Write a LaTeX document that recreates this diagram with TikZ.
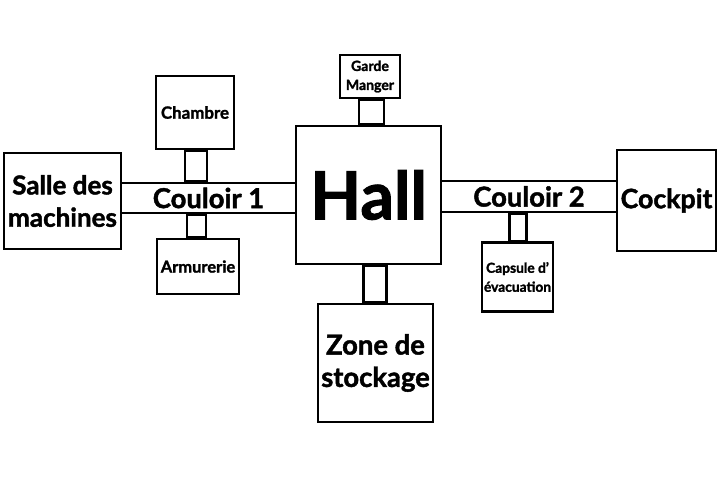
\documentclass[tikz,border=0pt]{standalone}
\usepackage{fontspec}
\setmainfont{Lato}[BoldFont={Lato Bold},BoldFeatures={FakeBold=1.6}]
\begin{document}
\begin{tikzpicture}[x=0.025cm,y=-0.025cm,
  room/.style={draw=black,line width=2pt,fill=white,inner sep=0pt,align=center,font=\bfseries},
  conn/.style={draw=black,line width=2pt}]
\useasboundingbox[fill=white] (0,0) rectangle (720,480);
% rooms
\node[room,minimum width=2.925cm,minimum height=2.4cm,font=\bfseries\fontsize{18.5}{23}\selectfont] (salle) at (62.5,201) {Salle des\\machines};
\node[room,minimum width=4.375cm,minimum height=0.75cm,font=\bfseries\fontsize{19.5}{18}\selectfont] (couloir1) at (208.5,198) {Couloir 1};
\node[room,minimum width=1.95cm,minimum height=1.825cm,font=\bfseries\fontsize{12}{11}\selectfont] (chambre) at (195,112.5) {Chambre};
\node[room,minimum width=2.05cm,minimum height=1.375cm,font=\bfseries\fontsize{11.7}{11}\selectfont,text depth=-0.25cm] (armurerie) at (198,266.5) {Armurerie};
\node[room,minimum width=3.625cm,minimum height=3.45cm,font=\bfseries\fontsize{47}{50}\selectfont] (hall) at (368.5,195) {Hall};
\node[room,minimum width=1.5cm,minimum height=1.075cm,font=\bfseries\fontsize{10}{13.5}\selectfont] (garde) at (370,76.5) {Garde\\Manger};
\node[room,minimum width=2.875cm,minimum height=2.95cm,font=\bfseries\fontsize{19.5}{23}\selectfont] (zone) at (375.5,363) {Zone de\\stockage};
\node[room,minimum width=4.4cm,minimum height=0.775cm,font=\bfseries\fontsize{19.5}{18}\selectfont] (couloir2) at (529,196.5) {Couloir 2};
\node[room,minimum width=2.475cm,minimum height=2.525cm,font=\bfseries\fontsize{19}{20}\selectfont] (cockpit) at (666.5,200.5) {Cockpit};
\node[room,minimum width=1.775cm,minimum height=1.725cm,font=\bfseries\fontsize{9.8}{13.5}\selectfont] (capsule) at (517.5,277) {Capsule d'\\évacuation};
% connectors
\draw[conn] ([xshift=-0.25cm]chambre.south) rectangle ([xshift=0.3cm]chambre.south |- couloir1.north);
\draw[conn] ([xshift=-0.275cm]armurerie.north) rectangle ([xshift=0.2cm]armurerie.north |- couloir1.south);
\draw[conn] ([xshift=-0.275cm]garde.south) rectangle ([xshift=0.35cm]garde.south |- hall.north);
\draw[conn] ([xshift=-0.3cm]zone.north) rectangle ([xshift=0.275cm]zone.north |- hall.south);
\draw[conn] ([xshift=-0.2cm]capsule.north) rectangle ([xshift=0.225cm]capsule.north |- couloir2.south);
\end{tikzpicture}
\end{document}
